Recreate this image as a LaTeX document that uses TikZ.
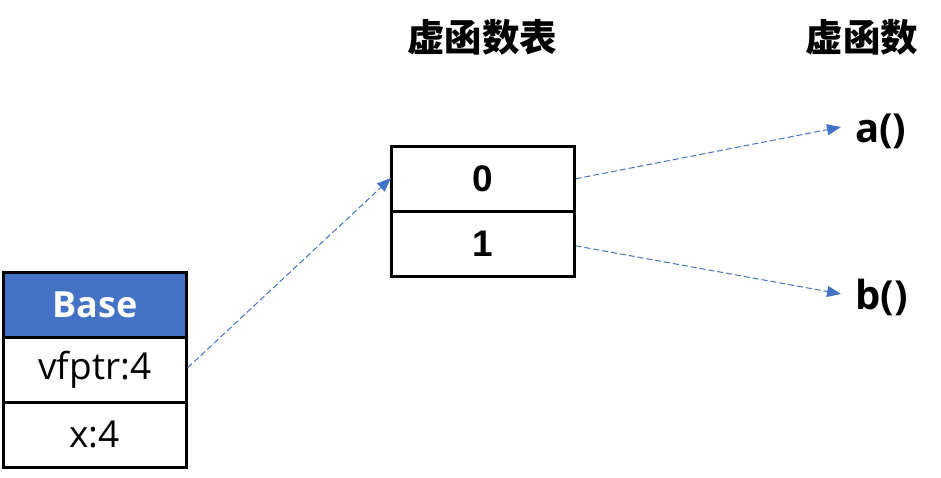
\documentclass[tikz,border=0pt]{standalone}
\usepackage{fontspec}
\setmainfont{Open Sans}
\newfontfamily\cjkfont{Noto Sans CJK SC}
\newfontfamily\arialfont{Liberation Sans}
\usetikzlibrary{arrows.meta}
\definecolor{hdrblue}{HTML}{4472C4}
\begin{document}
\begin{tikzpicture}[x=1pt,y=-1pt,
  cell/.style={draw=black, line width=2.6pt, minimum width=183pt, minimum height=65pt, inner sep=0pt, anchor=north west},
  ptr/.style={draw=hdrblue, line width=1pt, dash pattern=on 6pt off 3pt, -{Triangle[length=14pt,width=11pt]}},
  lbl/.style={inner sep=0pt}
]
\useasboundingbox (0,0) rectangle (941,477);
% Base object
\node[cell, fill=hdrblue, text=white, font=\fontsize{36}{40}\selectfont\bfseries] (base) at (2,271) {Base};
\node[cell, font=\fontsize{37}{40}\selectfont] (vfptr) at (2,336) {vfptr:4};
\node[cell, font=\fontsize{37}{40}\selectfont] (xfield) at (2,401) {x:4};
% vtable
\node[cell, font=\arialfont\fontsize{37}{40}\selectfont\bfseries] (t0) at (390,145) {0};
\node[cell, font=\arialfont\fontsize{37}{40}\selectfont\bfseries] (t1) at (390,210) {1};
% headings
\node[lbl, font=\cjkfont\fontsize{37.5}{40}\selectfont\bfseries] (h1) at (482,37) {虚函数表};
\node[lbl, font=\cjkfont\fontsize{37.5}{40}\selectfont\bfseries] (h2) at (862,37) {虚函数};
% functions
\node[lbl, font=\fontsize{40}{44}\selectfont\bfseries, anchor=west] (fa) at (855,131) {a()};
\node[lbl, font=\fontsize{40}{44}\selectfont\bfseries, anchor=west] (fb) at (855,297) {b()};
% pointers
\coordinate (vtin) at (391,178);
\coordinate (fain) at (841,127);
\coordinate (fbin) at (841,294);
\draw[ptr] ([yshift=2pt]vfptr.east) -- (vtin);
\draw[ptr] (t0.east) -- (fain);
\draw[ptr] ([yshift=-2pt]t1.east) -- (fbin);
\end{tikzpicture}
\end{document}
